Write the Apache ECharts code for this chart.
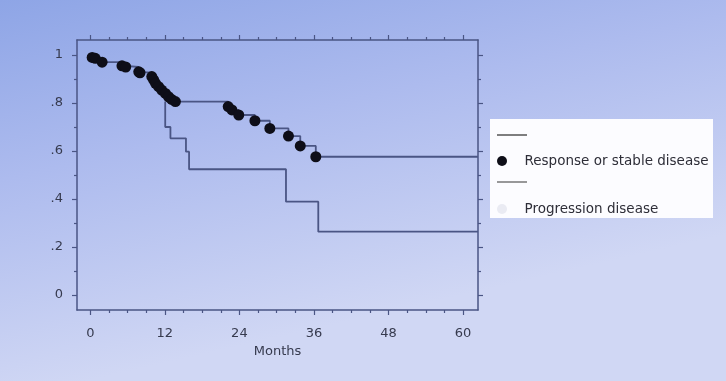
<!DOCTYPE html>
<html>
<head>
<meta charset="utf-8">
<script src="https://cdn.jsdelivr.net/npm/echarts@6/dist/echarts.min.js"></script>
<style>
html,body{margin:0;padding:0;}
#chart{width:726px;height:381px;}
</style>
</head>
<body>
<div id="chart"></div>
<script>
// ---- Data ----
const seriesNames = ['Response or stable disease', 'Progression disease'];
// Response / stable disease: KM step curve, dots marked where shown
const respMonths = [0, 0.3, 0.8, 1.9, 5.1, 5.7, 7.8, 8.0, 9.9, 10.2, 10.5, 11.0, 11.5, 12.1, 12.6, 13.1, 13.7, 22.2, 22.8, 23.9, 26.5, 28.9, 31.9, 33.8, 36.3, 62.4];
const respSurv   = [1.0, 0.99, 0.986, 0.97, 0.955, 0.95, 0.93, 0.926, 0.91, 0.896, 0.882, 0.868, 0.854, 0.84, 0.826, 0.815, 0.806, 0.785, 0.771, 0.75, 0.726, 0.694, 0.662, 0.621, 0.576, 0.576];
const respDot    = [0, 1, 1, 1, 1, 1, 1, 1, 1, 1, 1, 1, 1, 1, 1, 1, 1, 1, 1, 1, 1, 1, 1, 1, 1, 0];
// Progression disease: KM step curve
const progMonths = [12.06, 12.06, 12.9, 15.4, 15.9, 31.5, 36.7, 62.4];
const progSurv   = [0.806, 0.70, 0.653, 0.597, 0.524, 0.389, 0.264, 0.264];
// Axis ticks
const xMajorTicks = [0, 12, 24, 36, 48, 60];
const xMinorTicks = [3, 6, 9, 15, 18, 21, 27, 30, 33, 39, 42, 45, 51, 54, 57];
const yMajorTicks = [0, 0.2, 0.4, 0.6, 0.8, 1];
const yMinorTicks = [0.1, 0.3, 0.5, 0.7, 0.9];
const xTitle = 'Months';

// ---- Chart ----
const chart = echarts.init(document.getElementById('chart'));
const frameColor = '#4a5584';
const textColor = '#363a4e';
const font = 'DejaVu Sans';
const X_MIN = -2.14, X_MAX = 62.41, Y_MIN = -0.0625, Y_MAX = 1.0625;

function yFmt(v) {
  if (Math.abs(v - 1) < 1e-9) return '1';
  if (Math.abs(v) < 1e-9) return '0';
  return v.toFixed(1).replace(/^0/, '');
}

function xAx(pos, major, showLine) {
  return {
    type: 'value', min: X_MIN, max: X_MAX, position: pos,
    splitLine: { show: false },
    axisLine: { show: showLine, onZero: false, lineStyle: { color: frameColor, width: 1.5 } },
    axisTick: { show: true, inside: false, length: major ? 5 : 3,
      customValues: major ? xMajorTicks : xMinorTicks,
      lineStyle: { color: frameColor, width: 1.2 } },
    axisLabel: { show: pos === 'bottom' && major, customValues: xMajorTicks, margin: 17,
      color: textColor, fontFamily: font, fontSize: 13 },
    name: (pos === 'bottom' && major) ? xTitle : '',
    nameLocation: 'middle', nameGap: 35,
    nameTextStyle: { color: textColor, fontFamily: font, fontSize: 13 }
  };
}
function yAx(pos, major, showLine) {
  return {
    type: 'value', min: Y_MIN, max: Y_MAX, position: pos,
    splitLine: { show: false },
    axisLine: { show: showLine, onZero: false, lineStyle: { color: frameColor, width: 1.5 } },
    axisTick: { show: true, inside: false, length: major ? 5 : 3,
      customValues: major ? yMajorTicks : yMinorTicks,
      lineStyle: { color: frameColor, width: 1.2 } },
    axisLabel: { show: pos === 'left' && major, customValues: yMajorTicks, margin: 14,
      formatter: yFmt, color: textColor, fontFamily: font, fontSize: 13 }
  };
}

const respData = respMonths.map((m, i) => respDot[i]
  ? { value: [m, respSurv[i]] }
  : { value: [m, respSurv[i]], symbol: 'none' });
const progData = progMonths.map((m, i) => [m, progSurv[i]]);

const option = {
  animation: false,
  backgroundColor: {
    type: 'linear', x: 0, y: 0, x2: 0.12, y2: 1,
    colorStops: [
      { offset: 0, color: '#8ea5e6' },
      { offset: 0.45, color: '#adbbee' },
      { offset: 1, color: '#d0d7f4' }
    ]
  },
  grid: { left: 77, right: 248, top: 40, bottom: 71, containLabel: false },
  xAxis: [xAx('bottom', true, true), xAx('bottom', false, false), xAx('top', true, true), xAx('top', false, false)],
  yAxis: [yAx('left', true, true), yAx('left', false, false), yAx('right', true, true), yAx('right', false, false)],
  legend: {
    left: 492, top: 149, orient: 'vertical', itemGap: 34,
    itemWidth: 31, itemHeight: 10, selectedMode: false,
    textStyle: { color: '#2e2e38', fontFamily: font, fontSize: 13.5, padding: [0, 0, 0, 2] },
    data: [
      { name: seriesNames[0], icon: 'circle', itemStyle: { color: '#0e0e18' } },
      { name: seriesNames[1], icon: 'circle', itemStyle: { color: 'rgba(200,204,220,0.35)' } }
    ]
  },
  graphic: [
    { type: 'rect', z: 0, shape: { x: 490, y: 119, width: 223, height: 99 }, style: { fill: '#fcfcff' } },
    { type: 'line', z: 1, shape: { x1: 497, y1: 135, x2: 527, y2: 135 }, style: { stroke: '#555', lineWidth: 1.5 } },
    { type: 'line', z: 1, shape: { x1: 497, y1: 182, x2: 527, y2: 182 }, style: { stroke: '#777', lineWidth: 1.5 } }
  ],
  series: [
    {
      name: seriesNames[0], type: 'line', step: 'end', xAxisIndex: 0, yAxisIndex: 0,
      data: respData, symbol: 'circle', symbolSize: 11, showSymbol: true,
      itemStyle: { color: '#0e0e18' },
      lineStyle: { color: frameColor, width: 1.8 }, z: 3
    },
    {
      name: seriesNames[1], type: 'line', step: 'end', xAxisIndex: 0, yAxisIndex: 0,
      data: progData, symbol: 'none', showSymbol: false,
      itemStyle: { color: frameColor },
      lineStyle: { color: frameColor, width: 1.8 }, z: 2
    }
  ]
};
chart.setOption(option);
</script>
</body>
</html>
